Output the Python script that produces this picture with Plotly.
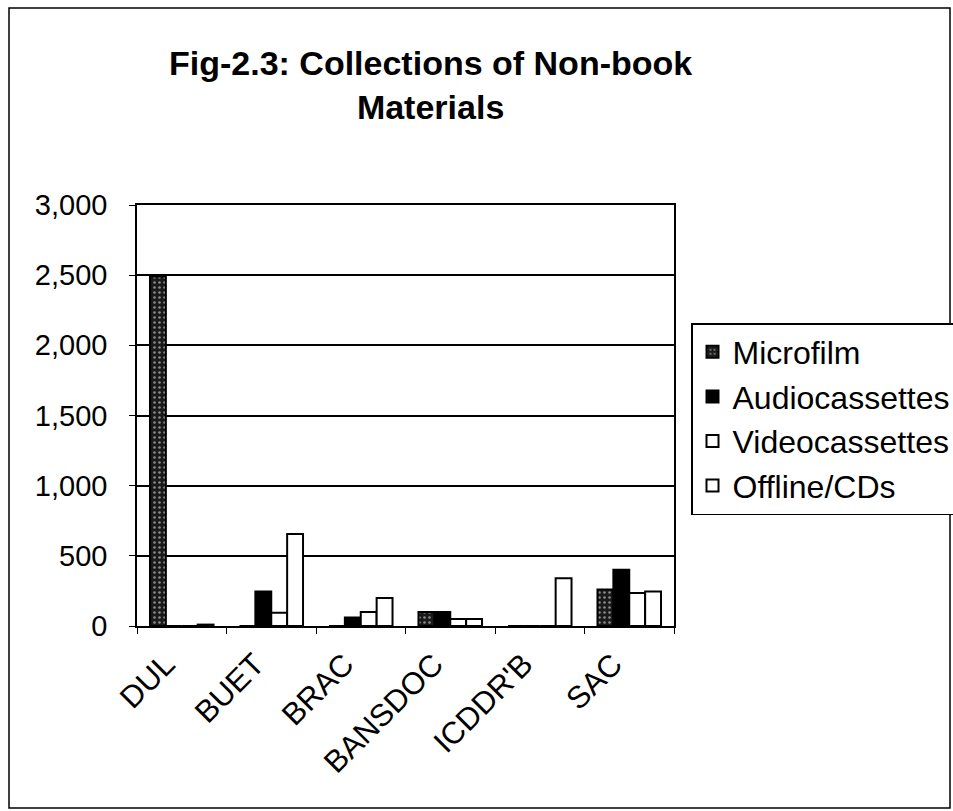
import plotly.graph_objects as go

categories = ["DUL", "BUET", "BRAC", "BANSDOC", "ICDDR'B", "SAC"]
microfilm = [2490, 0, 0, 100, 0, 260]
audiocassettes = [0, 245, 60, 100, 0, 400]
videocassettes = [0, 95, 100, 50, 0, 235]
offline_cds = [10, 655, 200, 50, 340, 245]
y_ticks = [0, 500, 1000, 1500, 2000, 2500, 3000]

FONT = "Liberation Sans, Arial, sans-serif"

fig = go.Figure()
series = [
    ("Microfilm", microfilm, dict(color="#1a1a1a", pattern=dict(shape=".", fgcolor="white", bgcolor="#1a1a1a", size=5, solidity=0.2))),
    ("Audiocassettes", audiocassettes, dict(color="black")),
    ("Videocassettes", videocassettes, dict(color="white")),
    ("Offline/CDs", offline_cds, dict(color="white")),
]
for i, (name, vals, m) in enumerate(series):
    fig.add_trace(go.Bar(
        x=categories, y=vals, name=name,
        marker=dict(line=dict(color="black", width=2), **m),
    ))

W, H = 953, 811
L, R, T, B = 137, 674, 205, 626
pw, ph = R - L, B - T

def px(x):
    return (x - L) / pw

def py(y):
    return (B - y) / ph

fig.add_shape(type="rect", xref="paper", yref="paper",
              x0=px(9), x1=px(950), y0=py(808), y1=py(8),
              line=dict(color="black", width=1.5), layer="below")

fig.add_annotation(text="<b>Fig-2.3: Collections of Non-book<br>Materials</b>",
                   xref="paper", yref="paper", x=px(430), y=py(85),
                   xanchor="center", yanchor="middle", showarrow=False,
                   font=dict(family=FONT, size=34, color="black"))

fig.update_layout(
    width=W, height=H,
    margin=dict(l=L, r=W - R, t=T, b=H - B, autoexpand=False),
    paper_bgcolor="white", plot_bgcolor="white",
    barmode="group", bargap=0.29, bargroupgap=0,
    font=dict(family=FONT, size=24, color="black"),
    legend=dict(x=px(691), xanchor="left", y=py(323), yanchor="top",
                bordercolor="black", borderwidth=1.5, bgcolor="white",
                font=dict(family=FONT, size=32, color="black"),
                traceorder="normal", itemwidth=30),
    xaxis=dict(type="category", tickson="boundaries", ticks="outside", ticklen=6,
               tickcolor="black", tickangle=-45, showline=True, linecolor="black",
               linewidth=1.5, mirror=True, showgrid=False,
               ticklabelshift=-16, ticklabelstandoff=6,
               tickfont=dict(family=FONT, size=31, color="black")),
    yaxis=dict(range=[0, 3000], tickvals=y_ticks, tickformat=",", ticks="outside",
               ticklen=6, tickcolor="black", showline=True, linecolor="black",
               linewidth=1.5, mirror=True, showgrid=True, gridcolor="black",
               gridwidth=1.5, zeroline=False, ticklabelstandoff=16,
               tickfont=dict(family=FONT, size=29, color="black")),
)

fig.write_html("out.html")
